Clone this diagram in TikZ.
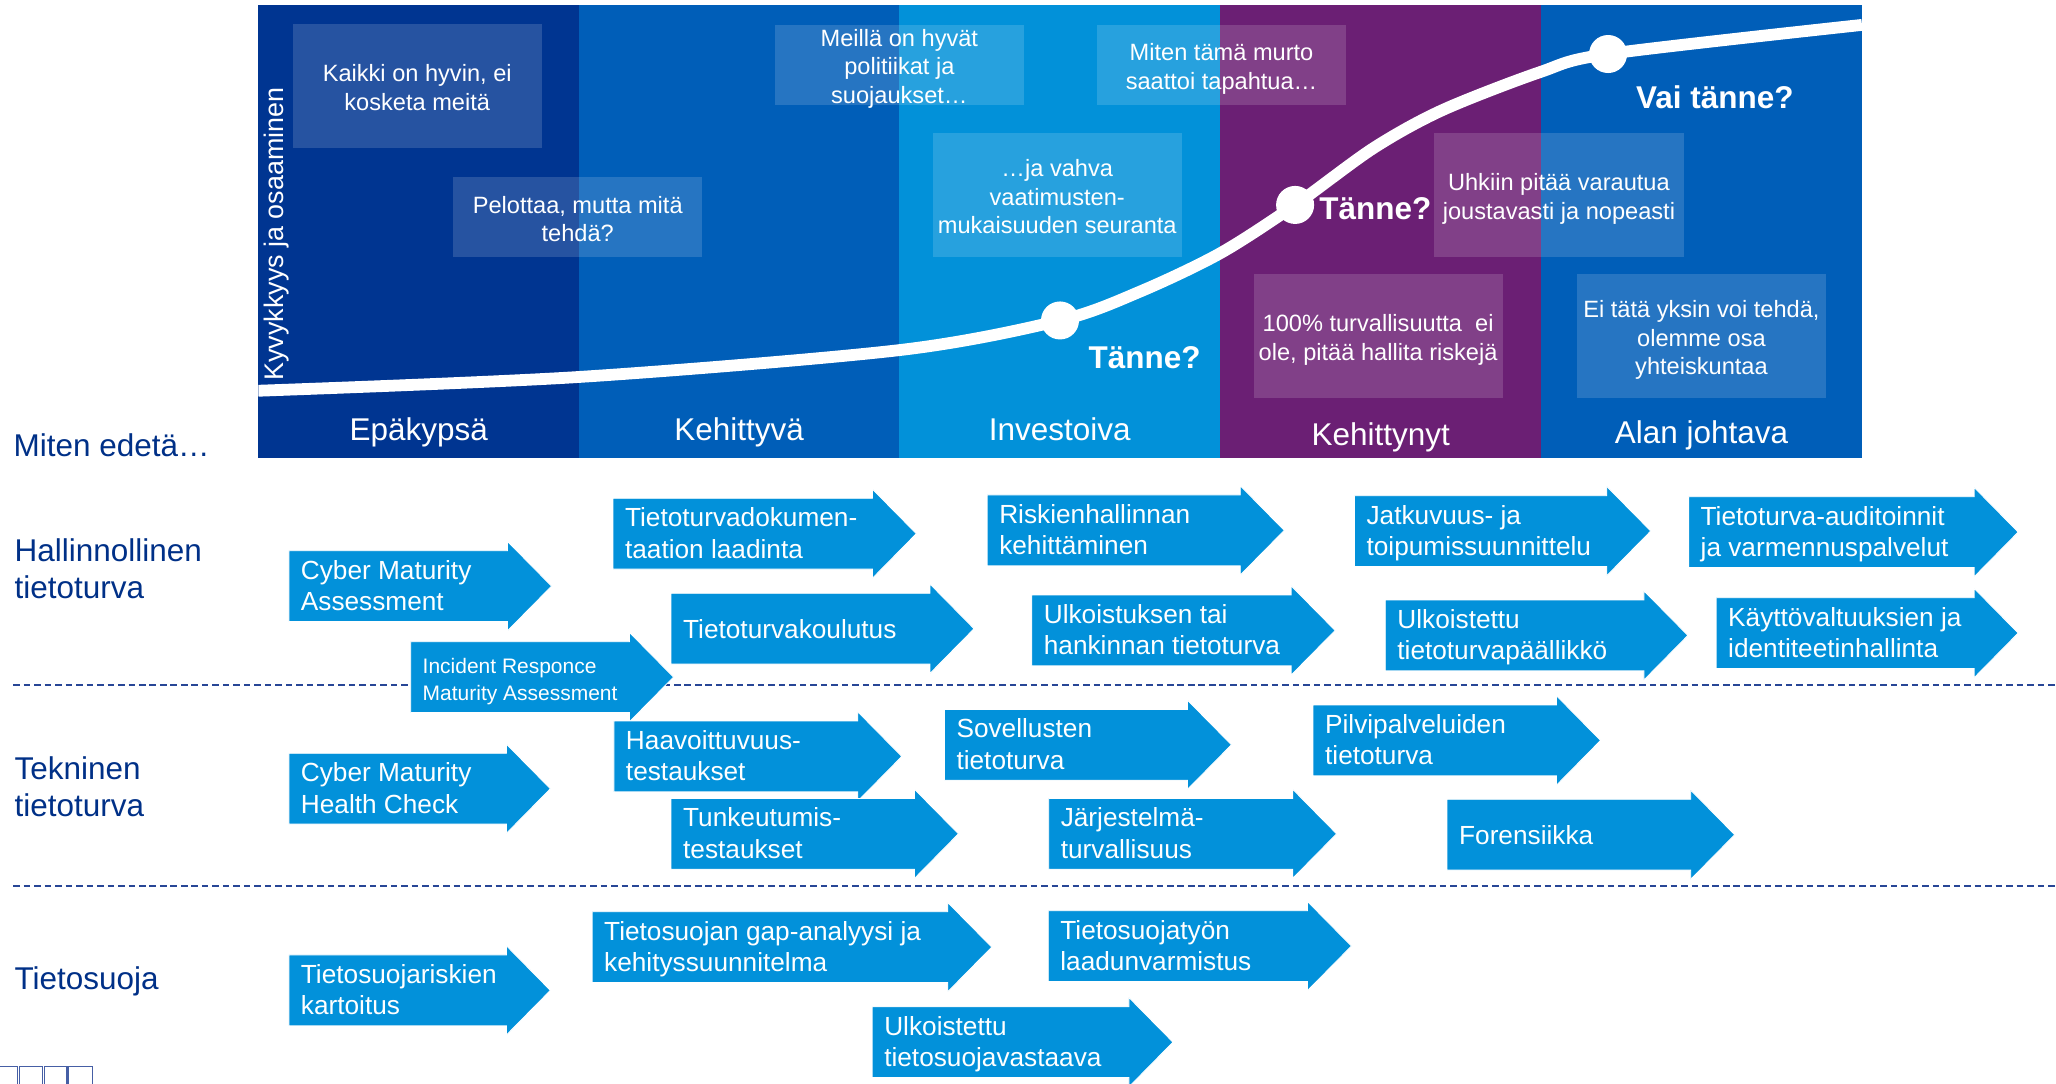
\documentclass[tikz,border=0pt]{standalone}
\usepackage{fontspec}
\setmainfont{Liberation Sans}
\usetikzlibrary{calc}
\definecolor{cnavy}{RGB}{0,53,145}
\definecolor{cblue}{RGB}{0,94,184}
\definecolor{clight}{RGB}{2,145,217}
\definecolor{cpurple}{RGB}{107,31,116}
\definecolor{carrow}{RGB}{2,145,218}
\definecolor{ctext}{RGB}{0,48,135}
\definecolor{cdash}{RGB}{40,70,150}
\definecolor{csq}{RGB}{70,95,165}
\tikzset{
  arrowtext/.style={anchor=west, inner sep=0pt, text=white, align=left,
    font=\fontsize{20}{24}\selectfont,
    execute at begin node=\strut, execute at end node=\strut},
  calloutbox/.style={fill=white, fill opacity=0.15, inner sep=0pt, minimum width=190pt},
  callouttext/.style={text=white, align=center, inner sep=0pt,
    font=\fontsize{18}{21.6}\selectfont,
    execute at begin node=\strut, execute at end node=\strut},
  collabel/.style={anchor=base, inner sep=0pt, text=white, font=\fontsize{24}{28}\selectfont},
  tanne/.style={anchor=base west, inner sep=0pt, text=white, font=\bfseries\fontsize{24}{28}\selectfont},
  rowlabel/.style={inner sep=0pt, text=ctext, align=left, font=\fontsize{24}{28}\selectfont},
  rowlabelml/.style={rowlabel, execute at begin node=\strut, execute at end node=\strut},
  dot/.style={circle, fill=white, inner sep=0pt, minimum size=29pt},
  dashline/.style={cdash, line width=1.2pt, dash pattern=on 5pt off 3pt},
  square/.style={csq, line width=0.9pt}
}
\newcommand{\svcarrow}[6][]{%
  \fill[carrow, draw=white, line width=0.6pt] (#3,#5) -- (#4,#5) -- (#4,#5-7) -- (#4+33.5,#5+27) -- (#4,#5+61) -- (#4,#5+54) -- (#3,#5+54) -- cycle;
  \node[arrowtext,#1] (#2) at (#3+9,#5+30) {#6};
}
\newcommand{\svcallout}[5]{%
  \node[calloutbox, minimum height=#4pt] (#1) at (#2,#3) {};
  \node[callouttext] (#1t) at (#2,#3+4.5) {#5};
}
\begin{document}
\begin{tikzpicture}[x=1pt,y=-1pt]
\useasboundingbox (0,0) rectangle (1568,826);
% stage columns
\fill[cnavy]   (197,3.8) rectangle (441.6,349);
\fill[cblue]   (441.6,3.8) rectangle (685.8,349);
\fill[clight]  (685.8,3.8) rectangle (930.6,349);
\fill[cpurple] (930.6,3.8) rectangle (1175.4,349);
\fill[cblue]   (1175.4,3.8) rectangle (1420,349);
% callout boxes
\svcallout{c1}{318.2}{65.5}{94.3}{Kaikki on hyvin, ei\\kosketa meitä}
\svcallout{c2}{440.6}{165.5}{60.5}{Pelottaa, mutta mitä\\tehdä?}
\svcallout{c3}{685.9}{49.4}{60.8}{Meillä on hyvät\\politiikat ja\\suojaukset…}
\svcallout{c4}{931.6}{49.4}{60.8}{Miten tämä murto\\saattoi tapahtua…}
\svcallout{c5}{806.3}{148.6}{94.4}{…ja vahva\\vaatimusten-\\mukaisuuden seuranta}
\svcallout{c6}{1051}{256.2}{94.3}{100\% turvallisuutta\ \ ei\\ole, pitää hallita riskejä}
\svcallout{c7}{1188.9}{148.6}{94.4}{Uhkiin pitää varautua\\joustavasti ja nopeasti}
\svcallout{c8}{1297.6}{256.2}{94.3}{Ei tätä yksin voi tehdä,\\olemme osa\\yhteiskuntaa}
% maturity curve
\begin{scope}
\clip (197,3.8) rectangle (1420,349);
\draw[white, line width=9pt] plot[smooth, tension=0.5] coordinates {(197,298) (441.5,287.5) (686,267) (808.4,244.4) (869.4,222.4) (930.5,193.2) (987.7,156.3) (1047.4,113) (1100,84) (1174.5,55) (1226.4,41.2) (1420,19)};
\end{scope}
\node[dot] (d1) at (808.4,244.4) {};
\node[dot] (d2) at (987.7,156.3) {};
\node[dot] (d3) at (1226.4,41.2) {};
\node[tanne] (t1) at (830,281) {Tänne?};
\node[tanne] (t2) at (1006,167.3) {Tänne?};
\node[tanne] (t3) at (1247.6,82.6) {Vai tänne?};
% axis label
\node[rotate=90, anchor=base, inner sep=0pt, text=white, font=\fontsize{20.5}{24}\selectfont] (ylab) at (216,178.5) {Kyvykkyys ja osaaminen};
% column labels
\node[collabel] (l1) at (319.3,335.6) {Epäkypsä};
\node[collabel] (l2) at (563.7,335.6) {Kehittyvä};
\node[collabel] (l3) at (808.2,335.6) {Investoiva};
\node[collabel] (l4) at (1053,339.5) {Kehittynyt};
\node[collabel] (l5) at (1297.7,338.5) {Alan johtava};
% row labels
\node[rowlabel, anchor=base west] (r0) at (10.2,348) {Miten edetä…};
\node[rowlabelml, anchor=north west] (r1) at (11,410.5) {Hallinnollinen\\tietoturva};
\node[rowlabelml, anchor=north west] (r2) at (11,577) {Tekninen\\tietoturva};
\node[rowlabel, anchor=base west] (r3) at (11,755) {Tietosuoja};
% dashed separators
\coordinate (da1) at (10,522.4); \coordinate (db1) at (1568,522.4);
\coordinate (da2) at (10,675.5); \coordinate (db2) at (1568,675.5);
\draw[dashline] (da1) -- (db1);
\draw[dashline] (da2) -- (db2);
% arrows: administrative
\svcarrow{a1}{220.3}{387.1}{420}{Cyber Maturity\\Assessment}
\svcarrow[font=\fontsize{16}{20.5}\selectfont, yshift=-2pt]{a2}{313.2}{480.1}{489.4}{Incident Responce\\Maturity Assessment}
\svcarrow{a5}{467.5}{665.3}{380}{Tietoturvadokumen-\\taation laadinta}
\svcarrow{a6}{752.9}{945.9}{377.5}{Riskienhallinnan\\kehittäminen}
\svcarrow{a7}{511.8}{709.3}{452.5}{Tietoturvakoulutus}
\svcarrow{a8}{786.9}{984.7}{453.8}{Ulkoistuksen tai\\hankinnan tietoturva}
\svcarrow{a13}{1033}{1225.4}{378}{Jatkuvuus- ja\\toipumissuunnittelu}
\svcarrow{a14}{1287.8}{1505.6}{378.8}{Tietoturva-auditoinnit\\ja varmennuspalvelut}
\svcarrow{a15}{1056.5}{1253.7}{457.6}{Ulkoistettu\\tietoturvapäällikkö}
\svcarrow{a16}{1308.8}{1505.6}{455.8}{Käyttövaltuuksien ja\\identiteetinhallinta}
% arrows: technical
\svcarrow{a3}{220.3}{386.2}{574.5}{Cyber Maturity\\Health Check}
\svcarrow{a9}{468.2}{654.2}{549.9}{Haavoittuvuus-\\testaukset}
\svcarrow{a11}{511.8}{697.4}{608.9}{Tunkeutumis-\\testaukset}
\svcarrow{a10}{720.3}{905.6}{541}{Sovellusten\\tietoturva}
\svcarrow{a12}{799.8}{985.8}{608.9}{Järjestelmä-\\turvallisuus}
\svcarrow{a17}{1001.4}{1187.1}{537.7}{Pilvipalveluiden\\tietoturva}
\svcarrow{a18}{1103.6}{1289.4}{609.6}{Forensiikka}
% arrows: data protection
\svcarrow{a4}{220.3}{386.2}{728.3}{Tietosuojariskien\\kartoitus}
\svcarrow{a19}{451.6}{722.8}{695.3}{Tietosuojan gap-analyysi ja\\kehityssuunnitelma}
\svcarrow{a20}{799.5}{997.1}{694.5}{Tietosuojatyön\\laadunvarmistus}
\svcarrow{a21}{665.2}{861}{767.8}{Ulkoistettu\\tietosuojavastaava}
% corner squares
\draw[square] (-5,813.5) rectangle (13.6,830);
\draw[square] (15,813.5) rectangle (32.3,830);
\draw[square] (33.7,813.5) rectangle (51.1,830);
\draw[square] (52.5,813.5) rectangle (70.3,830);
\end{tikzpicture}
\end{document}
